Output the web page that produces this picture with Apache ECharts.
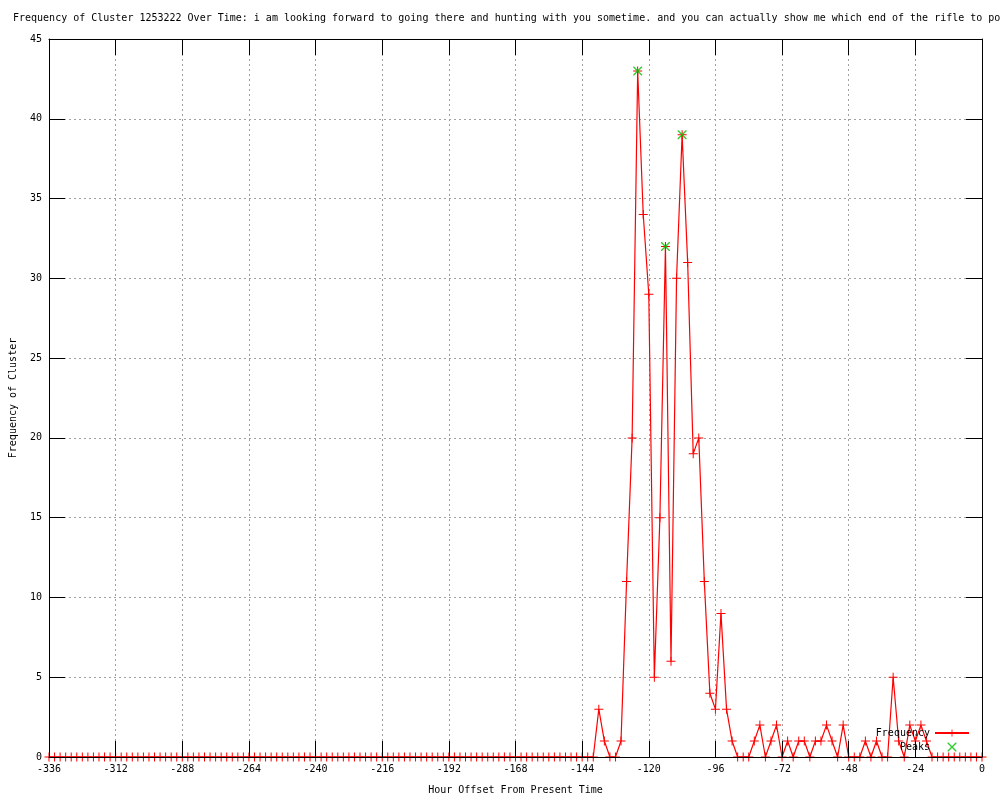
<!DOCTYPE html>
<html>
<head>
<meta charset="utf-8">
<script src="https://cdn.jsdelivr.net/npm/echarts@6/dist/echarts.min.js"></script>
<style>
  html, body { margin: 0; padding: 0; background: #fff; }
  #chart { width: 1000px; height: 800px; }
</style>
</head>
<body>
<div id="chart"></div>
<script>
const titleText = "Frequency of Cluster 1253222 Over Time: i am looking forward to going there and hunting with you sometime. and you can actually show me which end of the rifle to point";
const xAxisName = "Hour Offset From Present Time";
const yAxisName = "Frequency of Cluster";
const seriesNames = ["Frequency", "Peaks"];

const hours = [
  -336,-334,-332,-330,-328,-326,-324,-322,-320,-318,-316,-314,
  -312,-310,-308,-306,-304,-302,-300,-298,-296,-294,-292,-290,
  -288,-286,-284,-282,-280,-278,-276,-274,-272,-270,-268,-266,
  -264,-262,-260,-258,-256,-254,-252,-250,-248,-246,-244,-242,
  -240,-238,-236,-234,-232,-230,-228,-226,-224,-222,-220,-218,
  -216,-214,-212,-210,-208,-206,-204,-202,-200,-198,-196,-194,
  -192,-190,-188,-186,-184,-182,-180,-178,-176,-174,-172,-170,
  -168,-166,-164,-162,-160,-158,-156,-154,-152,-150,-148,-146,
  -144,-142,-140,-138,-136,-134,-132,-130,-128,-126,-124,-122,
  -120,-118,-116,-114,-112,-110,-108,-106,-104,-102,-100,-98,
  -96,-94,-92,-90,-88,-86,-84,-82,-80,-78,-76,-74,
  -72,-70,-68,-66,-64,-62,-60,-58,-56,-54,-52,-50,
  -48,-46,-44,-42,-40,-38,-36,-34,-32,-30,-28,-26,
  -24,-22,-20,-18,-16,-14,-12,-10,-8,-6,-4,-2,
  0
];

const frequency = [
  0,0,0,0,0,0,0,0,0,0,0,0,
  0,0,0,0,0,0,0,0,0,0,0,0,
  0,0,0,0,0,0,0,0,0,0,0,0,
  0,0,0,0,0,0,0,0,0,0,0,0,
  0,0,0,0,0,0,0,0,0,0,0,0,
  0,0,0,0,0,0,0,0,0,0,0,0,
  0,0,0,0,0,0,0,0,0,0,0,0,
  0,0,0,0,0,0,0,0,0,0,0,0,
  0,0,0,3,1,0,0,1,11,20,43,34,
  29,5,15,32,6,30,39,31,19,20,11,4,
  3,9,3,1,0,0,0,1,2,0,1,2,
  0,1,0,1,1,0,1,1,2,1,0,2,
  0,0,0,1,0,1,0,0,5,1,0,2,
  1,2,1,0,0,0,0,0,0,0,0,0,
  0
];

const peakHours = [-124, -114, -108];
const peakValues = [43, 32, 39];

const FONT = "DejaVu Sans Mono";
const PLUS = "path://M4,0H5V4H9V5H5V9H4V5H0V4H4Z";
const CROSS = "path://M0,0L1,0L4.5,3.5L8,0L9,0L9,1L5.5,4.5L9,8L9,9L8,9L4.5,5.5L1,9L0,9L0,8L3.5,4.5L0,1Z";

const freqData = hours.map((h, i) => [h, frequency[i]]);
const peakData = peakHours.map((h, i) => [h, peakValues[i]]);

const chart = echarts.init(document.getElementById('chart'), null, { renderer: 'canvas' });

function gridLine() { return { show: true, lineStyle: { color: '#a0a0a0', type: [2, 3], width: 1 } }; }
function tickStyle() { return { show: true, inside: true, length: 16, lineStyle: { color: '#000', width: 1 } }; }
function axisLineStyle() { return { show: true, onZero: false, lineStyle: { color: '#000', width: 1 } }; }

chart.setOption({
  animation: false,
  backgroundColor: '#ffffff',
  title: {
    text: titleText,
    left: 13, top: 13, padding: 0,
    textStyle: { fontFamily: FONT, fontSize: 10, fontWeight: 'normal', color: '#000' }
  },
  legend: {
    orient: 'vertical',
    right: 30, top: 728, padding: 0,
    align: 'right',
    itemWidth: 34, itemHeight: 9, itemGap: 4,
    textStyle: { fontFamily: FONT, fontSize: 10, color: '#000' },
    data: seriesNames
  },
  grid: { left: 49, right: 18, top: 39, bottom: 40, containLabel: false },
  xAxis: [
    {
      type: 'value', position: 'bottom', min: -336, max: 0, interval: 24, z: 5,
      name: xAxisName, nameLocation: 'middle', nameGap: 28,
      nameTextStyle: { fontFamily: FONT, fontSize: 10, color: '#000' },
      axisLine: axisLineStyle(), axisTick: tickStyle(),
      axisLabel: { fontFamily: FONT, fontSize: 10, color: '#000', margin: 7 },
      splitLine: { show: false }
    },
    {
      type: 'value', position: 'top', min: -336, max: 0, interval: 24, z: 0,
      axisLine: axisLineStyle(), axisTick: tickStyle(),
      axisLabel: { show: false },
      splitLine: gridLine()
    }
  ],
  yAxis: [
    {
      type: 'value', position: 'left', min: 0, max: 45, interval: 5, z: 5,
      name: yAxisName, nameLocation: 'middle', nameGap: 31,
      nameTextStyle: { fontFamily: FONT, fontSize: 10, color: '#000' },
      axisLine: axisLineStyle(), axisTick: tickStyle(),
      axisLabel: { fontFamily: FONT, fontSize: 10, color: '#000', margin: 7 },
      splitLine: { show: false }
    },
    {
      type: 'value', position: 'right', min: 0, max: 45, interval: 5, z: 0,
      axisLine: axisLineStyle(), axisTick: tickStyle(),
      axisLabel: { show: false },
      splitLine: gridLine()
    }
  ],
  series: [
    {
      name: seriesNames[0], type: 'line', xAxisIndex: 0, yAxisIndex: 0, z: 2,
      data: freqData,
      showAllSymbol: true,
      symbol: PLUS, symbolSize: 9,
      lineStyle: { color: '#ff0000', width: 1.2 },
      itemStyle: { color: '#ff0000' },
      emphasis: { disabled: true }
    },
    {
      name: seriesNames[1], type: 'scatter', xAxisIndex: 0, yAxisIndex: 0, z: 3,
      data: peakData,
      symbol: CROSS, symbolSize: 9,
      itemStyle: { color: '#00c000' },
      emphasis: { disabled: true }
    }
  ]
});
</script>
</body>
</html>
